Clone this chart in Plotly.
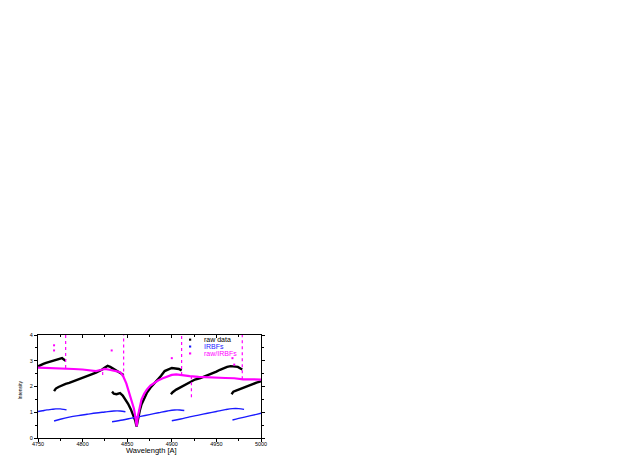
import plotly.graph_objects as go

# ---------------- data ----------------
raw_A_wl = [4750, 4753, 4756, 4759, 4762, 4765, 4768, 4771, 4774, 4777, 4779, 4781]
raw_A = [2.78, 2.84, 2.88, 2.92, 2.95, 2.97, 3.00, 3.04, 3.08, 3.10, 3.05, 3.00]

raw_B_wl = [4768, 4770, 4773, 4777, 4781, 4785, 4790, 4795, 4800, 4805, 4810, 4815,
            4819, 4822, 4825, 4828, 4831, 4834, 4837, 4840, 4843, 4846]
raw_B = [1.82, 1.92, 1.98, 2.05, 2.10, 2.14, 2.20, 2.27, 2.33, 2.40, 2.47, 2.54,
         2.60, 2.66, 2.74, 2.80, 2.76, 2.70, 2.64, 2.60, 2.54, 2.45]

raw_C_wl = [4833, 4835, 4838, 4842, 4845, 4848, 4851, 4854, 4857, 4859, 4860.5, 4862,
            4864, 4866, 4869, 4872, 4876, 4880, 4884, 4888, 4892, 4896, 4900, 4904, 4908, 4911]
raw_C = [1.80, 1.72, 1.70, 1.74, 1.65, 1.50, 1.33, 1.12, 0.88, 0.68, 0.45, 0.75,
         1.05, 1.30, 1.55, 1.75, 1.95, 2.10, 2.25, 2.42, 2.60, 2.66, 2.72, 2.70, 2.68, 2.62]

raw_D_wl = [4899, 4901, 4905, 4910, 4915, 4920, 4926, 4932, 4937, 4942, 4946, 4950,
            4954, 4958, 4962, 4966, 4970, 4974, 4977, 4979]
raw_D = [1.70, 1.78, 1.88, 1.98, 2.08, 2.15, 2.27, 2.33, 2.40, 2.45, 2.52, 2.58,
         2.65, 2.72, 2.76, 2.79, 2.78, 2.76, 2.70, 2.66]

raw_E_wl = [4967, 4969, 4972, 4976, 4980, 4985, 4990, 4995, 5000]
raw_E = [1.70, 1.80, 1.84, 1.90, 1.95, 2.02, 2.08, 2.15, 2.20]

irbf_A_wl = [4750, 4755, 4760, 4765, 4770, 4775, 4779, 4782]
irbf_A = [1.03, 1.06, 1.09, 1.11, 1.13, 1.13, 1.11, 1.09]
irbf_B_wl = [4768, 4775, 4785, 4795, 4805, 4815, 4825, 4835, 4842, 4848]
irbf_B = [0.66, 0.73, 0.81, 0.87, 0.92, 0.97, 1.01, 1.05, 1.05, 1.02]
irbf_C_wl = [4833, 4845, 4855, 4865, 4875, 4885, 4895, 4903, 4909, 4914]
irbf_C = [0.63, 0.70, 0.77, 0.84, 0.91, 0.98, 1.05, 1.09, 1.09, 1.07]
irbf_D_wl = [4900, 4910, 4920, 4930, 4940, 4950, 4960, 4968, 4975, 4981]
irbf_D = [0.67, 0.74, 0.82, 0.89, 0.96, 1.03, 1.10, 1.14, 1.14, 1.11]
irbf_E_wl = [4968, 4975, 4985, 4995, 5000]
irbf_E = [0.70, 0.76, 0.84, 0.92, 0.96]

ratio_wl = [4750, 4760, 4770, 4780, 4790, 4800, 4810, 4815, 4820, 4825, 4830, 4835,
            4840, 4843, 4846, 4849, 4852, 4855, 4857.5, 4859.5, 4860.6, 4862, 4864,
            4866, 4869, 4872, 4876, 4880, 4885, 4890, 4895, 4900, 4905, 4910, 4920,
            4930, 4940, 4950, 4960, 4970, 4980, 4990, 5000]
ratio = [2.73, 2.72, 2.72, 2.70, 2.68, 2.66, 2.62, 2.60, 2.64, 2.68, 2.65, 2.62,
         2.58, 2.53, 2.36, 2.12, 1.80, 1.49, 1.15, 0.75, 0.45, 0.85, 1.20,
         1.49, 1.72, 1.88, 2.04, 2.14, 2.24, 2.32, 2.40, 2.45, 2.47, 2.44, 2.40,
         2.37, 2.35, 2.34, 2.33, 2.32, 2.28, 2.28, 2.27]

spike_wl = [4781, 4846, 4911, 4979, 4922, 4822.5]
spike_lo = [2.72, 2.35, 2.45, 2.28, 1.58, 2.45]
spike_hi = [4.0, 4.0, 4.0, 4.0, 2.40, 2.68]

outlier_wl = [4768, 4768, 4832.6, 4900, 4968, 4970]
outlier = [3.6, 3.4, 3.4, 3.1, 3.1, 2.85]

x_ticks = [4750, 4800, 4850, 4900, 4950, 5000]
y_ticks = [0, 1, 2, 3, 4]

legend_names = ["raw data", "IRBFs", "raw/IRBFs"]

BLACK = "#000000"
BLUE = "#1a1aff"
MAGENTA = "#ff00ff"
legend_colors = [BLACK, BLUE, MAGENTA]

fig = go.Figure()

for wl, v in [(raw_A_wl, raw_A), (raw_B_wl, raw_B), (raw_C_wl, raw_C),
              (raw_D_wl, raw_D), (raw_E_wl, raw_E)]:
    fig.add_trace(go.Scatter(x=wl, y=v, mode="lines", line=dict(color=BLACK, width=2.4),
                             name=legend_names[0], showlegend=False, hoverinfo="skip"))

for wl, v in [(irbf_A_wl, irbf_A), (irbf_B_wl, irbf_B), (irbf_C_wl, irbf_C),
              (irbf_D_wl, irbf_D), (irbf_E_wl, irbf_E)]:
    fig.add_trace(go.Scatter(x=wl, y=v, mode="lines", line=dict(color=BLUE, width=1.4, shape="spline"),
                             name=legend_names[1], showlegend=False, hoverinfo="skip"))

fig.add_trace(go.Scatter(x=ratio_wl, y=ratio, mode="lines", line=dict(color=MAGENTA, width=2.2),
                         name=legend_names[2], showlegend=False, hoverinfo="skip"))

sx, sy = [], []
for w, lo, hi in zip(spike_wl, spike_lo, spike_hi):
    sx += [w, w, None]
    sy += [lo, hi, None]
fig.add_trace(go.Scatter(x=sx, y=sy, mode="lines", line=dict(color=MAGENTA, width=1.2, dash="dot"),
                         showlegend=False, hoverinfo="skip"))
fig.add_trace(go.Scatter(x=outlier_wl, y=outlier, mode="markers",
                         marker=dict(color=MAGENTA, size=2, symbol="square"),
                         showlegend=False, hoverinfo="skip"))

# invisible trace for top axis
fig.add_trace(go.Scatter(x=[4750, 5000], y=[None, None], xaxis="x2", showlegend=False,
                         hoverinfo="skip", mode="markers"))

font = dict(family="Liberation Sans, Arial, sans-serif", color="black")

# hand-drawn legend (compact rows like the original)
legend_x_marker = 0.682
legend_x_text = 0.735
legend_rows = [0.955, 0.888, 0.821]
shapes = []
annotations = []
for name, col, yy in zip(legend_names, legend_colors, legend_rows):
    shapes.append(dict(type="rect", xref="paper", yref="paper",
                       x0=legend_x_marker - 0.005, x1=legend_x_marker + 0.005,
                       y0=yy - 0.01, y1=yy + 0.01, fillcolor=col, line=dict(width=0)))
    annotations.append(dict(text=name, xref="paper", yref="paper", x=legend_x_text, y=yy,
                            xanchor="left", yanchor="middle", showarrow=False,
                            font=dict(size=7, family=font["family"], color=col)))

annotations.append(dict(text="Wavelength [A]", xref="paper", yref="paper", x=0.507, y=-0.125,
                        xanchor="center", yanchor="middle", showarrow=False,
                        font=dict(size=7.5, **font)))
annotations.append(dict(text="Intensity", xref="paper", yref="paper", x=-0.081, y=0.47,
                        xanchor="center", yanchor="middle", showarrow=False, textangle=-90,
                        font=dict(size=5, **font)))

fig.update_layout(
    width=619, height=455,
    margin=dict(l=30, r=366, t=327, b=25, autoexpand=False),
    paper_bgcolor="white", plot_bgcolor="white",
    font=dict(size=6, **font),
    showlegend=False,
    shapes=shapes,
    annotations=annotations,
    xaxis=dict(range=[4750, 5000], tickvals=x_ticks, ticktext=[str(t) for t in x_ticks],
               showgrid=False, zeroline=False, showline=True, linecolor="black", linewidth=1,
               ticks="outside", ticklen=3, tickwidth=1, tickcolor="black",
               minor=dict(dtick=25, ticks="outside", ticklen=2, tickcolor="black", tick0=4750),
               tickfont=dict(size=5.5, **font), mirror=True, ticklabelstandoff=-3),
    xaxis2=dict(range=[4750, 5000], overlaying="x", side="top", anchor="y",
                tickvals=x_ticks, showticklabels=False, showgrid=False, zeroline=False,
                ticks="inside", ticklen=3, tickcolor="black",
                minor=dict(dtick=25, ticks="inside", ticklen=2, tickcolor="black", tick0=4750)),
    yaxis=dict(range=[0, 4], tickvals=y_ticks, showgrid=False, zeroline=False,
               showline=True, linecolor="black", linewidth=1, mirror="ticks",
               ticks="outside", ticklen=3, tickwidth=1, tickcolor="black",
               minor=dict(dtick=0.5, ticks="outside", ticklen=2, tickcolor="black"),
               tickfont=dict(size=5.5, **font)),
)

fig.write_html("out.html")
